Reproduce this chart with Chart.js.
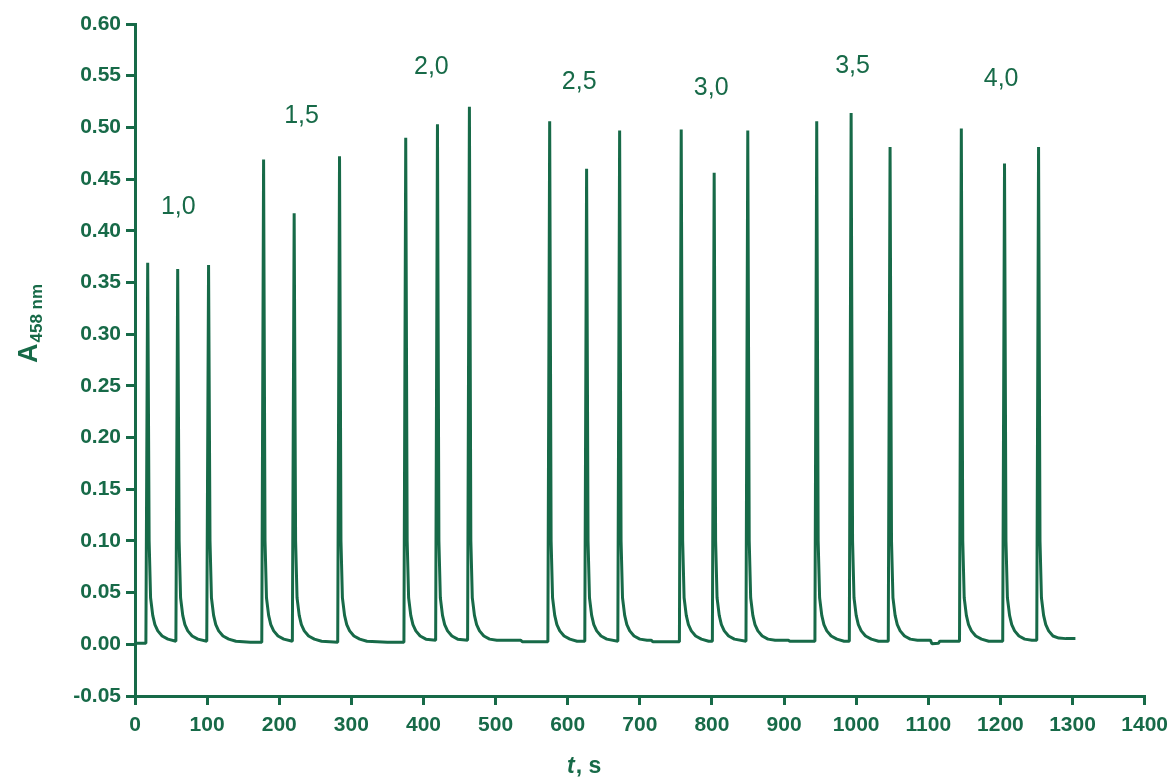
<!DOCTYPE html>
<html>
<head>
<meta charset="utf-8">
<script src="https://cdn.jsdelivr.net/npm/chart.js@4.4.1/dist/chart.umd.min.js"></script>
<style>
  html, body { margin: 0; padding: 0; background: #ffffff; }
  #wrap { width: 1176px; height: 778px; position: relative; }
</style>
</head>
<body>
<div id="wrap"><canvas id="c"></canvas></div>
<script>
// ---- Data ----
// concentration labels shown above each group of three injections
const groupLabels = ['1,0', '1,5', '2,0', '2,5', '3,0', '3,5', '4,0'];
const groupLabelT = [60, 231, 411, 616, 799, 995, 1201];
const groupLabelA = [0.423, 0.511, 0.558, 0.544, 0.538, 0.559, 0.547];

// trace segments (time, s / absorbance at 458 nm)
const t_10 = [0, 15.1, 17.6, 19.6, 21.6, 24.6, 27.6, 31.6, 37.6, 45.6, 56.7, 59.2, 61.2, 63.2, 66.2, 69.2, 73.2, 79.2, 87.2, 99.5, 102, 104, 106, 109, 112, 116, 122, 130, 140, 160];
const a_10 = [0.001, 0.001, 0.369, 0.100, 0.045, 0.028, 0.019, 0.013, 0.008, 0.005, 0.003, 0.363, 0.100, 0.045, 0.028, 0.019, 0.013, 0.008, 0.005, 0.003, 0.367, 0.100, 0.045, 0.028, 0.019, 0.013, 0.008, 0.005, 0.003, 0.002];

const t_15 = [175.8, 178.3, 180.3, 182.3, 185.3, 188.3, 192.3, 198.3, 206.3, 218.2, 220.7, 222.7, 224.7, 227.7, 230.7, 234.7, 240.7, 248.7, 258.7, 281.1, 283.6, 285.6, 287.6, 290.6, 293.6, 297.6, 303.6, 311.6, 321.6, 350];
const a_15 = [0.002, 0.469, 0.100, 0.045, 0.028, 0.019, 0.013, 0.008, 0.005, 0.003, 0.417, 0.100, 0.045, 0.028, 0.019, 0.013, 0.008, 0.005, 0.003, 0.002, 0.472, 0.100, 0.045, 0.028, 0.019, 0.013, 0.008, 0.005, 0.003, 0.002];

const t_20 = [372.9, 375.4, 377.4, 379.4, 382.4, 385.4, 389.4, 395.4, 403.4, 416.9, 419.4, 421.4, 423.4, 426.4, 429.4, 433.4, 439.4, 447.4, 461.2, 463.7, 465.7, 467.7, 470.7, 473.7, 477.7, 483.7, 491.7, 501.7, 535, 537, 560];
const a_20 = [0.002, 0.490, 0.100, 0.045, 0.028, 0.019, 0.013, 0.008, 0.005, 0.004, 0.503, 0.100, 0.045, 0.028, 0.019, 0.013, 0.008, 0.005, 0.004, 0.520, 0.100, 0.045, 0.028, 0.019, 0.013, 0.008, 0.005, 0.004, 0.004, 0.0025, 0.0025];

const t_25 = [572.5, 575, 577, 579, 582, 585, 589, 595, 603, 613, 623.7, 626.2, 628.2, 630.2, 633.2, 636.2, 640.2, 646.2, 654.2, 669.5, 672, 674, 676, 679, 682, 686, 692, 700, 710, 716, 718, 740];
const a_25 = [0.0025, 0.506, 0.100, 0.045, 0.028, 0.019, 0.013, 0.008, 0.005, 0.003, 0.003, 0.460, 0.100, 0.045, 0.028, 0.019, 0.013, 0.008, 0.005, 0.003, 0.497, 0.100, 0.045, 0.028, 0.019, 0.013, 0.008, 0.005, 0.004, 0.004, 0.0025, 0.0025];

const t_30 = [754.9, 757.4, 759.4, 761.4, 764.4, 767.4, 771.4, 777.4, 785.4, 795.4, 800.6, 803.1, 805.1, 807.1, 810.1, 813.1, 817.1, 823.1, 831.1, 847.2, 849.7, 851.7, 853.7, 856.7, 859.7, 863.7, 869.7, 877.7, 887.7, 906, 908, 930];
const a_30 = [0.0025, 0.498, 0.100, 0.045, 0.028, 0.019, 0.013, 0.008, 0.005, 0.003, 0.003, 0.456, 0.100, 0.045, 0.028, 0.019, 0.013, 0.008, 0.005, 0.003, 0.497, 0.100, 0.045, 0.028, 0.019, 0.013, 0.008, 0.005, 0.004, 0.004, 0.003, 0.003];

const t_35 = [942.8, 945.3, 947.3, 949.3, 952.3, 955.3, 959.3, 965.3, 973.3, 983.3, 990.5, 993, 995, 997, 1000, 1003, 1007, 1013, 1021, 1031, 1044.5, 1047, 1049, 1051, 1054, 1057, 1061, 1067, 1075, 1085, 1103, 1105, 1114, 1116, 1125];
const a_35 = [0.003, 0.506, 0.100, 0.045, 0.028, 0.019, 0.013, 0.008, 0.005, 0.003, 0.003, 0.514, 0.100, 0.045, 0.028, 0.019, 0.013, 0.008, 0.005, 0.003, 0.003, 0.481, 0.100, 0.045, 0.028, 0.019, 0.013, 0.008, 0.005, 0.004, 0.004, 0.0005, 0.001, 0.003, 0.003];

const t_40 = [1143.3, 1145.8, 1147.8, 1149.8, 1152.8, 1155.8, 1159.8, 1165.8, 1173.8, 1183.8, 1203.2, 1205.7, 1207.7, 1209.7, 1212.7, 1215.7, 1219.7, 1225.7, 1233.7, 1243.7, 1250.4, 1252.9, 1254.9, 1256.9, 1259.9, 1262.9, 1266.9, 1272.9, 1280.9, 1290.9, 1304];
const a_40 = [0.003, 0.499, 0.100, 0.045, 0.028, 0.019, 0.013, 0.008, 0.005, 0.003, 0.003, 0.465, 0.100, 0.045, 0.028, 0.019, 0.013, 0.008, 0.005, 0.004, 0.004, 0.481, 0.100, 0.045, 0.028, 0.019, 0.013, 0.008, 0.006, 0.0055, 0.0055];

// axis ticks
const xMin = 0, xMax = 1400, xStep = 100;
const yMin = -0.05, yMax = 0.60, yStep = 0.05;

// ---- build points for the library ----
const segT = [t_10, t_15, t_20, t_25, t_30, t_35, t_40];
const segA = [a_10, a_15, a_20, a_25, a_30, a_35, a_40];
const points = [];
segT.forEach((ts, i) => ts.forEach((t, j) => points.push({ x: t, y: segA[i][j] })));

const GREEN = '#176a48';
const FONT = '"Liberation Sans", Arial, sans-serif';

const textPlugin = {
  id: 'texts',
  afterDraw(chart) {
    const ctx = chart.ctx;
    const xs = chart.scales.x, ys = chart.scales.y;
    ctx.save();
    ctx.fillStyle = GREEN;
    // group labels
    ctx.font = '25px ' + FONT;
    ctx.textAlign = 'center';
    ctx.textBaseline = 'middle';
    groupLabels.forEach((lbl, i) => {
      ctx.fillText(lbl, xs.getPixelForValue(groupLabelT[i]), ys.getPixelForValue(groupLabelA[i]));
    });
    // x title: "t, s"
    ctx.textAlign = 'left';
    ctx.textBaseline = 'alphabetic';
    const xt = 567, yt = 773;
    ctx.font = 'italic bold 23px ' + FONT;
    ctx.fillText('t', xt, yt);
    const wT = ctx.measureText('t').width;
    ctx.font = 'bold 23px ' + FONT;
    ctx.fillText(', s', xt + wT + 1, yt);
    // y title: A with subscript 458 nm, rotated
    ctx.translate(37, 363);
    ctx.rotate(-Math.PI / 2);
    ctx.font = 'bold 27px ' + FONT;
    ctx.fillText('A', 0, 0);
    const wA = ctx.measureText('A').width;
    ctx.font = 'bold 17px ' + FONT;
    ctx.fillText('458 nm', wA + 1, 5);
    ctx.restore();
  }
};

new Chart(document.getElementById('c'), {
  type: 'line',
  data: {
    datasets: [{
      data: points,
      borderColor: GREEN,
      borderWidth: 3,
      pointRadius: 0,
      tension: 0,
      fill: false,
      borderJoinStyle: 'bevel'
    }]
  },
  options: {
    responsive: true,
    maintainAspectRatio: false,
    animation: false,
    events: [],
    layout: { padding: { top: 24, right: 30, left: 0, bottom: 0 } },
    plugins: { legend: { display: false }, tooltip: { enabled: false }, title: { display: false } },
    scales: {
      x: {
        type: 'linear',
        min: xMin, max: xMax,
        afterFit(s) { s.height = 82; },
        border: { display: true, color: GREEN, width: 3 },
        grid: { display: true, drawOnChartArea: false, drawTicks: true, tickLength: 9, color: GREEN, lineWidth: 3 },
        ticks: {
          stepSize: xStep, color: GREEN, padding: 8, maxRotation: 0,
          callback: v => String(v),
          font: { family: FONT, size: 21, weight: 'bold' }
        }
      },
      y: {
        type: 'linear',
        min: yMin, max: yMax,
        afterFit(s) { s.width = 135; },
        border: { display: true, color: GREEN, width: 3 },
        grid: { display: true, drawOnChartArea: false, drawTicks: true, tickLength: 9, color: GREEN, lineWidth: 3 },
        ticks: {
          stepSize: yStep, color: GREEN, padding: 5,
          callback: v => v.toFixed(2),
          font: { family: FONT, size: 21, weight: 'bold' }
        }
      }
    }
  },
  plugins: [textPlugin]
});
</script>
</body>
</html>
